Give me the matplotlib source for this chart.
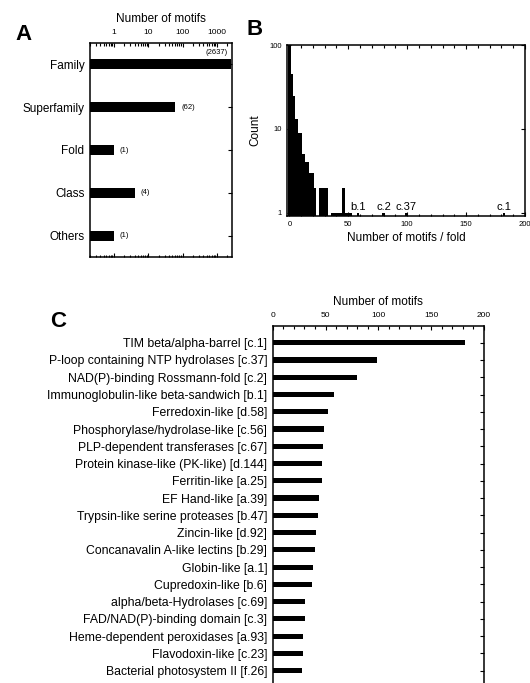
import matplotlib
matplotlib.use("Agg")
import matplotlib.pyplot as plt
from matplotlib.ticker import MultipleLocator, LogLocator, NullLocator, FixedLocator

plt.rcParams['font.family'] = ['Liberation Sans', 'DejaVu Sans']

# --- data ---
# A: motifs per SCOP level
levels = ['Family', 'Superfamily', 'Fold', 'Class', 'Others']
level_counts = [2637, 62, 1, 4, 1]

# B: histogram of motifs per fold (bin centres, width 2)
hist_x = [0, 2, 4, 6, 8, 10, 12, 14, 16, 18, 20, 22, 26, 28, 30, 32,
          36, 38, 40, 42, 44, 46, 48, 50, 52, 58, 80, 99, 182]
hist_count = [300, 45, 25, 13, 9, 9, 5, 4, 4, 3, 3, 2, 2, 2, 2, 2,
              1, 1, 1, 1, 1, 2, 1, 1, 1, 1, 1, 1, 1]
hist_labels = ['b.1', 'c.2', 'c.37', 'c.1']
hist_label_x = [58, 80, 99, 182]

# C: top folds
folds = ['TIM beta/alpha-barrel [c.1]',
         'P-loop containing NTP hydrolases [c.37]',
         'NAD(P)-binding Rossmann-fold [c.2]',
         'Immunoglobulin-like beta-sandwich [b.1]',
         'Ferredoxin-like [d.58]',
         'Phosphorylase/hydrolase-like [c.56]',
         'PLP-dependent transferases [c.67]',
         'Protein kinase-like (PK-like) [d.144]',
         'Ferritin-like [a.25]',
         'EF Hand-like [a.39]',
         'Trypsin-like serine proteases [b.47]',
         'Zincin-like [d.92]',
         'Concanavalin A-like lectins [b.29]',
         'Globin-like [a.1]',
         'Cupredoxin-like [b.6]',
         'alpha/beta-Hydrolases [c.69]',
         'FAD/NAD(P)-binding domain [c.3]',
         'Heme-dependent peroxidases [a.93]',
         'Flavodoxin-like [c.23]',
         'Bacterial photosystem II [f.26]']
fold_counts = [182, 99, 80, 58, 52, 49, 48, 47, 47, 44,
               43, 41, 40, 38, 37, 31, 31, 29, 29, 28]

W, H = 530, 683
fig = plt.figure(figsize=(W / 100, H / 100), dpi=100)


def rect(l, t, r, b):
    return [l / W, 1 - b / H, (r - l) / W, (b - t) / H]


def style(ax):
    for s in ax.spines.values():
        s.set_linewidth(1.1)
    ax.tick_params(which='both', direction='in', top=True, right=True,
                   bottom=True, left=True, width=0.8)
    ax.tick_params(which='major', length=3)
    ax.tick_params(which='minor', length=1.8)


# ---------------- panel A ----------------
axA = fig.add_axes(rect(90, 43, 232, 257))
style(axA)
xminA = 0.2
ypos = list(range(len(levels)))
axA.barh(ypos, [c - xminA for c in level_counts], left=xminA, height=0.23,
         color='black')
axA.set_xscale('log')
axA.set_xlim(xminA, 2750)
axA.set_ylim(4.5, -0.5)
axA.xaxis.set_major_locator(FixedLocator([1, 10, 100, 1000]))
axA.xaxis.set_minor_locator(LogLocator(base=10, subs=range(2, 10)))
axA.set_xticklabels(['1', '10', '100', '1000'])
axA.xaxis.set_minor_formatter(plt.NullFormatter())
axA.tick_params(axis='x', labeltop=True, labelbottom=False, labelsize=6, pad=5)
axA.set_yticks(ypos)
axA.set_yticklabels(levels, fontsize=8.5)
axA.tick_params(axis='y', which='both', left=False, pad=4)
axA.yaxis.set_minor_locator(NullLocator())
axA.xaxis.set_label_position('top')
axA.set_xlabel('Number of motifs', fontsize=8.5, labelpad=5)
for i, c in enumerate(level_counts):
    if i == 0:
        axA.annotate('(%d)' % c, (c, i), xytext=(-3, 6), textcoords='offset points',
                     ha='right', va='bottom', fontsize=5.5)
    else:
        axA.annotate('(%d)' % c, (c, i), xytext=(4, 0), textcoords='offset points',
                     ha='left', va='center', fontsize=5.5)

# ---------------- panel B ----------------
axB = fig.add_axes(rect(287, 45, 525, 216))
style(axB)
axB.bar(hist_x, hist_count, width=2, color='black', log=True)
axB.set_yscale('log')
axB.set_ylim(0.92, 100)
axB.set_xlim(-2, 200)
axB.yaxis.set_major_locator(FixedLocator([1, 10, 100]))
axB.set_yticklabels(['1', '10', '100'])
axB.yaxis.set_minor_locator(NullLocator())
axB.xaxis.set_major_locator(MultipleLocator(50))
axB.xaxis.set_minor_locator(MultipleLocator(10))
axB.tick_params(labelsize=5.5, pad=3.5)
axB.set_xlabel('Number of motifs / fold', fontsize=8.5, labelpad=3)
axB.set_ylabel('Count', fontsize=8.5, labelpad=6)
for lab, x in zip(hist_labels, hist_label_x):
    axB.text(x, 1.03, lab, ha='center', va='bottom', fontsize=8)

# ---------------- panel C ----------------
axC = fig.add_axes(rect(272.7, 326, 484, 700))
style(axC)
yc = list(range(len(folds)))
axC.barh(yc, fold_counts, height=0.3, color='black')
axC.set_xlim(0, 200)
axC.set_ylim(20.7, -0.97)
axC.xaxis.set_major_locator(MultipleLocator(50))
axC.xaxis.set_minor_locator(MultipleLocator(10))
axC.tick_params(axis='x', labeltop=True, labelbottom=False, labelsize=6, pad=5)
axC.set_yticks(yc)
axC.set_yticklabels(folds, fontsize=8.8)
axC.tick_params(axis='y', which='both', left=False, pad=4)
axC.xaxis.set_label_position('top')
axC.set_xlabel('Number of motifs', fontsize=8.5, labelpad=5)

# panel letters
fig.text(15 / W, 1 - 40 / H, 'A', fontsize=16, fontweight='bold', va='baseline')
fig.text(247 / W, 1 - 35 / H, 'B', fontsize=16, fontweight='bold', va='baseline')
fig.text(50 / W, 1 - 327 / H, 'C', fontsize=16, fontweight='bold', va='baseline')

fig.savefig('out.png', dpi=100)
